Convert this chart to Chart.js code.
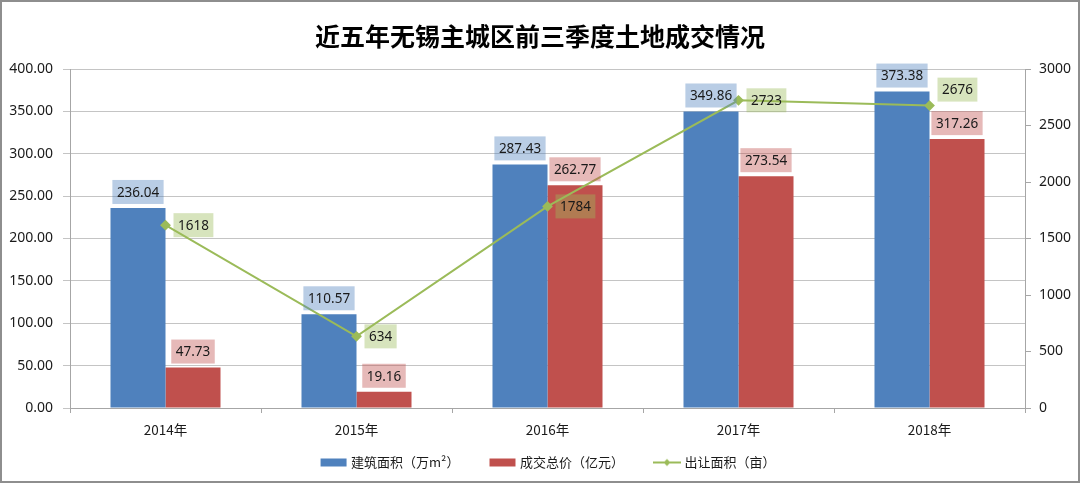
<!DOCTYPE html>
<html lang="zh">
<head>
<meta charset="UTF-8">
<title>近五年无锡主城区前三季度土地成交情况</title>
<script src="https://cdn.jsdelivr.net/npm/chart.js"></script>
<style>
  html, body { margin: 0; padding: 0; background: #fff; }
  #wrap { width: 1080px; height: 484px; }
</style>
</head>
<body>
<div id="wrap"><canvas id="landChart" width="1080" height="484"></canvas></div>
<script>
const years = ['2014年', '2015年', '2016年', '2017年', '2018年'];
const floorArea = [236.04, 110.57, 287.43, 349.86, 373.38];   // 建筑面积（万m²）
const totalPrice = [47.73, 19.16, 262.77, 273.54, 317.26];    // 成交总价（亿元）
const landArea = [1618, 634, 1784, 2723, 2676];               // 出让面积（亩）

const BLUE = '#4f81bd';
const RED = '#c0504d';
const GREEN = '#9bbb59';
const FONT = '"Noto Sans", "Noto Sans CJK SC", sans-serif';
const CJK = '"Noto Sans CJK SC", "Noto Sans", sans-serif';

// small legend icons (blank space on the left widens the gap between items)
function makeIcon(kind, color) {
  const c = document.createElement('canvas');
  c.width = 46; c.height = 10;
  const g = c.getContext('2d');
  const x0 = 18;
  if (kind === 'bar') {
    g.fillStyle = color;
    g.fillRect(x0 + 1, 1, 26, 8);
  } else {
    g.strokeStyle = color;
    g.lineWidth = 2;
    g.beginPath(); g.moveTo(x0, 5); g.lineTo(x0 + 28, 5); g.stroke();
    g.fillStyle = color;
    const cx = x0 + 14;
    g.beginPath(); g.moveTo(cx, 1.5); g.lineTo(cx + 3.5, 5); g.lineTo(cx, 8.5); g.lineTo(cx - 3.5, 5); g.closePath(); g.fill();
  }
  return c;
}
const icons = [makeIcon('bar', BLUE), makeIcon('bar', RED), makeIcon('line', GREEN)];

// frame + white background
const framePlugin = {
  id: 'frame',
  beforeDraw(chart) {
    const ctx = chart.ctx;
    ctx.save();
    ctx.fillStyle = '#fff';
    ctx.fillRect(0, 0, chart.width, chart.height);
    ctx.restore();
  },
  afterDraw(chart) {
    const ctx = chart.ctx;
    ctx.save();
    ctx.strokeStyle = '#8e8e8e';
    ctx.lineWidth = 2;
    ctx.strokeRect(1, 1, chart.width - 2, chart.height - 3);
    ctx.restore();
  }
};

// value labels with tinted boxes
const boxTint = {
  line: 'rgba(155,187,89,0.4)',
  [BLUE]: 'rgba(79,129,189,0.4)',
  [RED]: 'rgba(192,80,77,0.4)'
};
const valueLabels = {
  id: 'valueLabels',
  afterDatasetsDraw(chart) {
    const ctx = chart.ctx;
    ctx.save();
    ctx.font = '13.5px ' + FONT;
    ctx.textAlign = 'center';
    ctx.textBaseline = 'middle';
    const h = 24;
    chart.data.datasets.forEach((ds, di) => {
      const meta = chart.getDatasetMeta(di);
      meta.data.forEach((el, i) => {
        const v = ds.data[i];
        const isLine = ds.type === 'line';
        const txt = isLine ? String(v) : v.toFixed(2);
        const w = ctx.measureText(txt).width + 9;
        let bx, by;
        if (isLine) {
          bx = el.x + 8;
          by = el.y - h / 2 - (i === 4 ? 16 : 0);
          ctx.fillStyle = boxTint.line;
        } else {
          bx = el.x - w / 2;
          by = el.y - 4 - h;
          ctx.fillStyle = boxTint[ds.backgroundColor];
        }
        ctx.fillRect(bx, by, w, h);
        ctx.fillStyle = '#1a1a1a';
        ctx.fillText(txt, bx + w / 2, by + h / 2 + 1);
      });
    });
    ctx.restore();
  }
};

new Chart(document.getElementById('landChart'), {
  data: {
    labels: years,
    datasets: [
      {
        type: 'line',
        label: '出让面积（亩）',
        data: landArea,
        yAxisID: 'y1',
        borderColor: GREEN,
        backgroundColor: GREEN,
        borderWidth: 2,
        pointStyle: 'rectRot',
        pointRadius: 4,
        pointBackgroundColor: GREEN,
        pointBorderColor: GREEN,
        tension: 0,
        order: 0
      },
      {
        type: 'bar',
        label: '建筑面积（万m²）',
        data: floorArea,
        yAxisID: 'y',
        backgroundColor: BLUE,
        categoryPercentage: 0.576,
        barPercentage: 1,
        order: 1
      },
      {
        type: 'bar',
        label: '成交总价（亿元）',
        data: totalPrice,
        yAxisID: 'y',
        backgroundColor: RED,
        categoryPercentage: 0.576,
        barPercentage: 1,
        order: 1
      }
    ]
  },
  options: {
    responsive: false,
    animation: false,
    layout: { padding: { left: 0, right: 0, top: 0, bottom: 5 } },
    plugins: {
      title: {
        display: true,
        text: '近五年无锡主城区前三季度土地成交情况',
        color: '#000',
        font: { family: CJK, size: 25, weight: 'bold' },
        padding: { top: 21, bottom: 18 }
      },
      legend: {
        position: 'bottom',
        labels: {
          usePointStyle: true,
          pointStyleWidth: 40,
          padding: 14,
          color: '#1a1a1a',
          font: { family: CJK, size: 13 },
          generateLabels(chart) {
            const items = Chart.defaults.plugins.legend.labels.generateLabels(chart);
            const order = [1, 2, 0];
            return order.map((di, k) => {
              const it = items.find(x => x.datasetIndex === di);
              it.pointStyle = icons[k];
              return it;
            });
          }
        }
      },
      tooltip: { enabled: false }
    },
    scales: {
      x: {
        offset: true,
        grid: { offset: true, drawOnChartArea: false, drawTicks: true, tickLength: 5, color: '#a6a6a6' },
        border: { color: '#a6a6a6' },
        ticks: { color: '#1a1a1a', font: { family: CJK, size: 13.5 }, padding: 9 },
        afterFit(s) { s.height = 34; }
      },
      y: {
        position: 'left',
        min: 0,
        max: 400,
        ticks: { stepSize: 50, color: '#1a1a1a', font: { family: FONT, size: 14 }, padding: 10,
          callback: v => v.toFixed(2) },
        grid: { color: '#c4c4c4', tickLength: 7 },
        border: { color: '#a6a6a6' },
        afterFit(s) { s.width = 70; }
      },
      y1: {
        position: 'right',
        min: 0,
        max: 3000,
        ticks: { stepSize: 500, color: '#1a1a1a', font: { family: FONT, size: 14 }, padding: 8,
          callback: v => String(v) },
        grid: { drawOnChartArea: false, color: '#a6a6a6', tickLength: 6 },
        border: { color: '#a6a6a6' },
        afterFit(s) { s.width = 55; }
      }
    }
  },
  plugins: [framePlugin, valueLabels]
});
</script>
</body>
</html>
